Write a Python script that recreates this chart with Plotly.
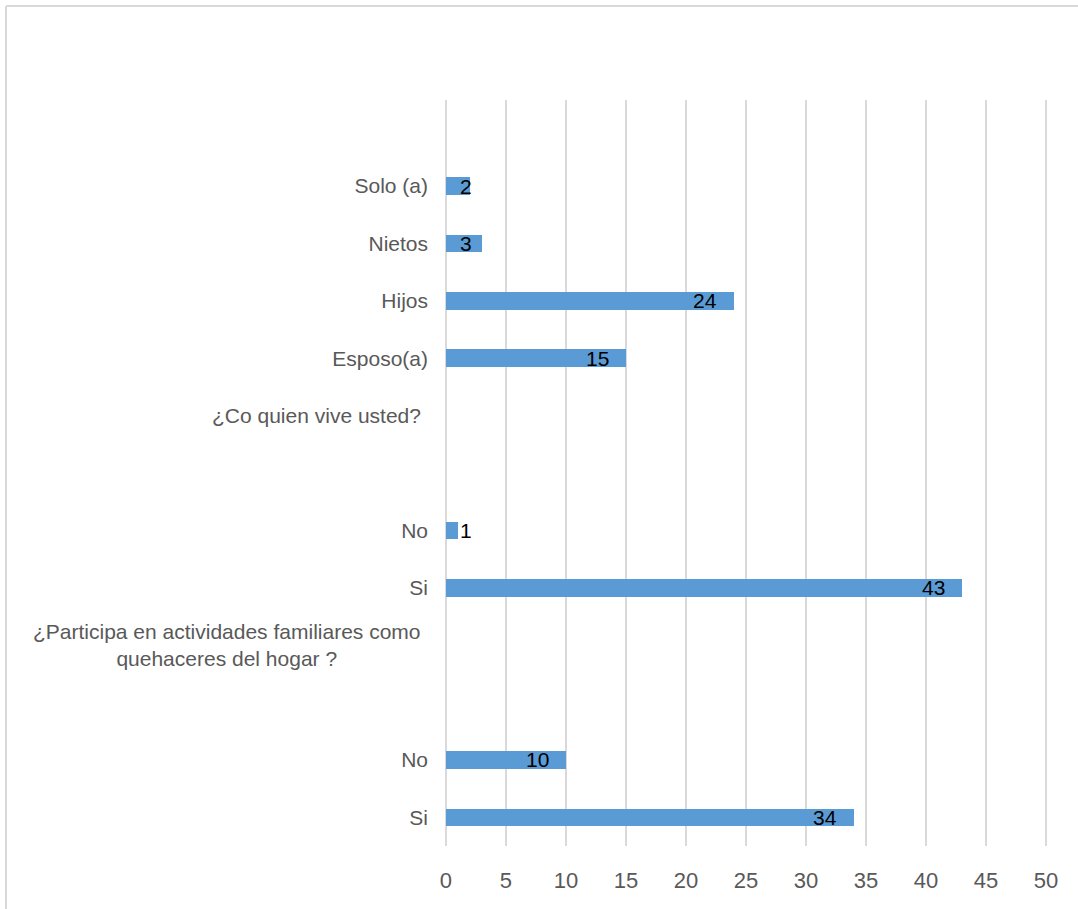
import plotly.graph_objects as go

# Rows from bottom to top; header rows carry no bar
row_labels = ["Si", "No", "", "", "Si", "No", "", "", "Esposo(a)", "Hijos", "Nietos", "Solo (a)", ""]
row_values = [34, 10, None, None, 43, 1, None, None, 15, 24, 3, 2, None]
headers = {
    3: "¿Participa en actividades familiares como<br>quehaceres del hogar ?",
    7: "¿Co quien vive usted?",
}
x_ticks = [0, 5, 10, 15, 20, 25, 30, 35, 40, 45, 50]

BAR = "#5B9BD5"
GRID = "#D9D9D9"
TXT = "#595959"
FONT = "Liberation Sans, Arial, sans-serif"

rows = list(range(len(row_labels)))
bar_rows = [r for r, v in zip(rows, row_values) if v is not None]
bar_vals = [v for v in row_values if v is not None]

fig = go.Figure()
fig.add_trace(go.Bar(
    x=bar_vals, y=bar_rows, orientation="h",
    marker=dict(color=BAR, line=dict(width=0)),
    width=0.305, hoverinfo="x",
))

# value labels sit just inside the bar end (kept clear of the axis on short bars)
MIN_LABEL_X = 3.6
for r, v in zip(bar_rows, bar_vals):
    fig.add_annotation(
        x=max(v, MIN_LABEL_X), y=r, xref="x", yref="y",
        text=str(v), showarrow=False, xanchor="right", yanchor="middle",
        xshift=-15, font=dict(family=FONT, size=21, color="#000000"),
    )

# group headers in the label column
for r, t in headers.items():
    fig.add_annotation(
        x=0, y=r, xref="paper", yref="y", text=t, showarrow=False,
        xanchor="right", yanchor="middle", align="center", xshift=-22,
        font=dict(family=FONT, size=21, color=TXT),
    )

# gridlines at the two ends of the value axis
for xv in (x_ticks[0], x_ticks[-1]):
    fig.add_shape(type="line", xref="x", yref="paper", x0=xv, x1=xv, y0=0, y1=1,
                  line=dict(color=GRID, width=2), layer="below")

# outer frame (left and top edges)
fig.add_shape(type="line", xref="paper", yref="paper",
              x0=(6 - 445) / 602, x1=1.06, y0=(846 - 6) / 746, y1=(846 - 6) / 746,
              line=dict(color=GRID, width=2))
fig.add_shape(type="line", xref="paper", yref="paper",
              x0=(6 - 445) / 602, x1=(6 - 445) / 602, y0=-0.1, y1=(846 - 6) / 746,
              line=dict(color=GRID, width=2))

fig.update_layout(
    width=1078, height=909,
    margin=dict(l=445, r=31, t=100, b=63),
    paper_bgcolor="white", plot_bgcolor="white",
    showlegend=False, bargap=0,
    font=dict(family=FONT, size=21, color=TXT),
)
fig.update_xaxes(
    range=[-0.08, 50.08], tickvals=x_ticks, ticktext=[str(t) for t in x_ticks],
    showgrid=True, gridcolor=GRID, gridwidth=2, zeroline=False,
    showline=False, ticks="", ticklabelstandoff=19,
    tickfont=dict(family=FONT, size=22, color=TXT),
)
fig.update_yaxes(
    range=[-0.5, 12.5], tickvals=rows, ticktext=row_labels,
    showgrid=False, zeroline=False, showline=False, ticks="",
    ticklabelstandoff=16,
    tickfont=dict(family=FONT, size=21, color=TXT),
)

fig.write_html("out.html")
